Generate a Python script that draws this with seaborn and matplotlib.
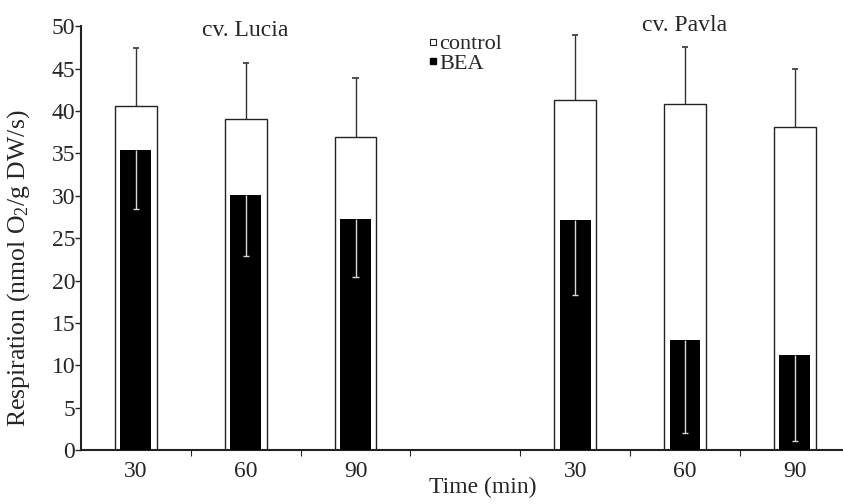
import numpy as np
import pandas as pd
import matplotlib.pyplot as plt
import seaborn as sns
from matplotlib.lines import Line2D

# data
slots = ["L30", "L60", "L90", "gap", "P30", "P60", "P90"]
bar_slots = ["L30", "L60", "L90", "P30", "P60", "P90"]
tick_labels = ["30", "60", "90", "", "30", "60", "90"]
control = [40.6, 39.1, 36.9, 41.3, 40.8, 38.1]
control_err = [6.8, 6.6, 7.0, 7.7, 6.7, 6.9]
bea = [35.4, 30.1, 27.3, 27.1, 13.0, 11.2]
bea_err = [7.0, 7.2, 6.9, 8.8, 11.0, 10.1]

sns.set_style("ticks")
plt.rcParams["font.family"] = ["Liberation Serif", "DejaVu Serif"]
plt.rcParams["mathtext.fontset"] = "custom"
plt.rcParams["mathtext.rm"] = "Liberation Serif"
plt.rcParams["mathtext.it"] = "Liberation Serif:italic"
fs = 17

df = pd.DataFrame({"slot": bar_slots, "control": control, "bea": bea})

fig, ax = plt.subplots(figsize=(8.43, 5.04), dpi=100)
fig.subplots_adjust(left=0.096, right=1.008, top=0.948, bottom=0.107)

sns.barplot(data=df, x="slot", y="control", order=slots, width=0.38,
            color="white", edgecolor="#222222", linewidth=1.0, saturation=1,
            errorbar=None, ax=ax, zorder=2)
sns.barplot(data=df, x="slot", y="bea", order=slots, width=0.28,
            color="black", edgecolor="black", linewidth=0, saturation=1,
            errorbar=None, ax=ax, zorder=3)

xpos = np.array([slots.index(s) for s in bar_slots])
c = np.array(control)
b = np.array(bea)
cap = 0.028
# control: upper whisker only
ax.vlines(xpos, c, c + np.array(control_err), color="#333333", lw=1.0, zorder=1)
ax.hlines(c + np.array(control_err), xpos - cap, xpos + cap, color="#333333",
          lw=1.2, zorder=1)
# BEA: lower whisker only, light on the black bar
ax.vlines(xpos, b - np.array(bea_err), b, color="#d8d8d8", lw=1.0, zorder=4)
ax.hlines(b - np.array(bea_err), xpos - cap, xpos + cap, color="#d8d8d8",
          lw=1.0, zorder=4)

ax.set_ylim(0, 50)
ax.set_xlim(-0.5, 6.5)
ax.set_yticks(np.arange(0, 51, 5))
ax.set_xticks(range(len(slots)))
ax.set_xticklabels(tick_labels)
ax.set_xticks(np.arange(0.5, 6.0, 1.0), minor=True)
ax.tick_params(axis="x", which="major", length=0, labelsize=fs, pad=8)
ax.tick_params(axis="x", which="minor", length=4, width=0.8, direction="out")
ax.tick_params(axis="y", length=4, width=1.0, labelsize=fs, pad=0)
ax.set_xlabel("")
ax.set_ylabel("Respiration (nmol O$_2$/g DW/s)", fontsize=fs + 1.5)
ax.yaxis.set_label_coords(-0.064, 0.43)
fig.text(0.573, 0.012, "Time (min)", fontsize=fs, ha="center", va="bottom")
sns.despine(ax=ax)
for sp in ["left", "bottom"]:
    ax.spines[sp].set_linewidth(1.5)
    ax.spines[sp].set_color("#222222")

ax.text(1.0, 49.5, "cv. Lucia", fontsize=fs, ha="center", va="center")
ax.text(5.0, 50.1, "cv. Pavla", fontsize=fs, ha="center", va="center",
        clip_on=False)

handles = [Line2D([], [], marker="s", color="none", markerfacecolor="white",
                  markeredgecolor="#222222", markersize=5, markeredgewidth=0.8),
           Line2D([], [], marker="s", color="none", markerfacecolor="black",
                  markeredgecolor="black", markersize=5)]
fig.legend(handles, ["control", "BEA"], loc="upper left",
           bbox_to_anchor=(0.508, 0.933), frameon=False, fontsize=16,
           handlelength=0.4, handletextpad=0.1, labelspacing=-0.03,
           borderpad=0, borderaxespad=0)

fig.savefig("out.png", dpi=100)
